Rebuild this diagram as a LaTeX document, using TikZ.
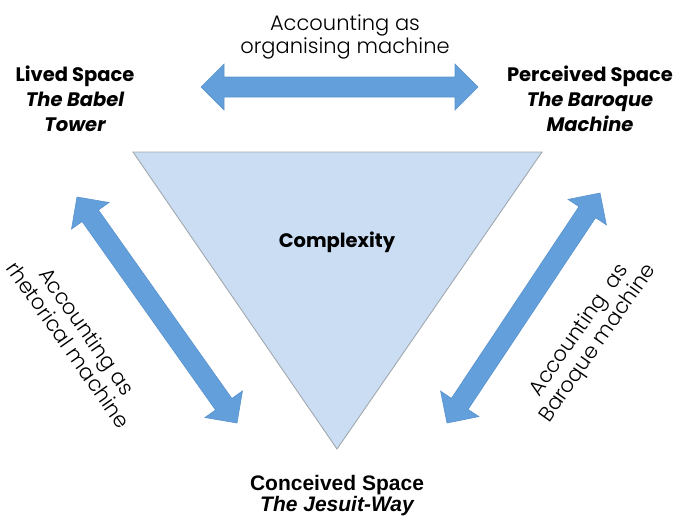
\documentclass[tikz,border=0pt]{standalone}
\usepackage{fontspec}
\setmainfont{Liberation Sans}
\newfontfamily\geofont{Poppins}[UprightFont=*-Light]
\newfontfamily\headfont{Poppins}
\usetikzlibrary{calc}

\definecolor{arrowblue}{HTML}{639FDA}
\definecolor{arrowedge}{HTML}{5A93CE}
\definecolor{trifill}{HTML}{CADDF2}
\definecolor{triedge}{HTML}{A2A8AF}

% sizes of the block double arrows
\newcommand\headlen{23pt}
\newcommand\headw{23pt}
\newcommand\shaftw{10pt}

% block double arrow between two named coordinates
\newcommand\dblarrow[2]{%
  \coordinate (#1-h) at ($(#1)!\headlen!(#2)$);
  \coordinate (#2-h) at ($(#2)!\headlen!(#1)$);
  \filldraw[blockarrow] (#1)
    -- ($(#1-h)!\headw!90:(#2)$) -- ($(#1-h)!\shaftw!90:(#2)$)
    -- ($(#2-h)!\shaftw!-90:(#1)$) -- ($(#2-h)!\headw!-90:(#1)$)
    -- (#2)
    -- ($(#2-h)!\headw!90:(#1)$) -- ($(#2-h)!\shaftw!90:(#1)$)
    -- ($(#1-h)!\shaftw!-90:(#2)$) -- ($(#1-h)!\headw!-90:(#2)$)
    -- cycle;}

\begin{document}
\begin{tikzpicture}[x=1pt,y=-1pt,
  blockarrow/.style={fill=arrowblue,draw=arrowedge,line width=0.6pt,line join=miter},
  spacelabel/.style={font=\headfont\bfseries\fontsize{19.5}{25}\selectfont,align=center,inner sep=0pt,anchor=north},
  linklabel/.style={font=\geofont\fontsize{21}{23}\selectfont,align=center,inner sep=0pt},
  corelabel/.style={font=\headfont\bfseries\fontsize{19.5}{22}\selectfont,inner sep=0pt}]
\useasboundingbox (0,0) rectangle (682,515);

% central triangle
\coordinate (tl) at (133,152);
\coordinate (tr) at (542,152);
\coordinate (tb) at (337,449);
\filldraw[fill=trifill,draw=triedge,line width=0.9pt] (tl) -- (tr) -- (tb) -- cycle;
\node[corelabel] (core) at (337,242) {Complexity};

% the three spaces
\node[spacelabel] (lived) at (75,66) {Lived Space\\\itshape The Babel\\\itshape Tower};
\node[spacelabel] (perceived) at (590,66) {Perceived Space\\\itshape The Baroque\\\itshape Machine};
\node[font=\bfseries\fontsize{21}{21}\selectfont,align=center,inner sep=0pt,anchor=north] (conceived) at (337,475)
  {Conceived Space\\\itshape The Jesuit-Way};

% arrows between the spaces
\coordinate (topL) at (201,87);
\coordinate (topR) at (478,87);
\dblarrow{topL}{topR}
\coordinate (leftU) at (77,197);
\coordinate (leftD) at (237,423);
\dblarrow{leftU}{leftD}
\coordinate (rightU) at (600,193);
\coordinate (rightD) at (447,423);
\dblarrow{rightU}{rightD}

% arrow captions
\node[linklabel,anchor=north] (toptext) at (345,15) {Accounting as\\organising machine};
\node[linklabel,rotate=-55] (lefttext) at (78,338) {Accounting as\\rhetorical machine};
\node[linklabel,rotate=55] (righttext) at (589,337) {Accounting\ \ as\\Baroque machine};
\end{tikzpicture}
\end{document}
